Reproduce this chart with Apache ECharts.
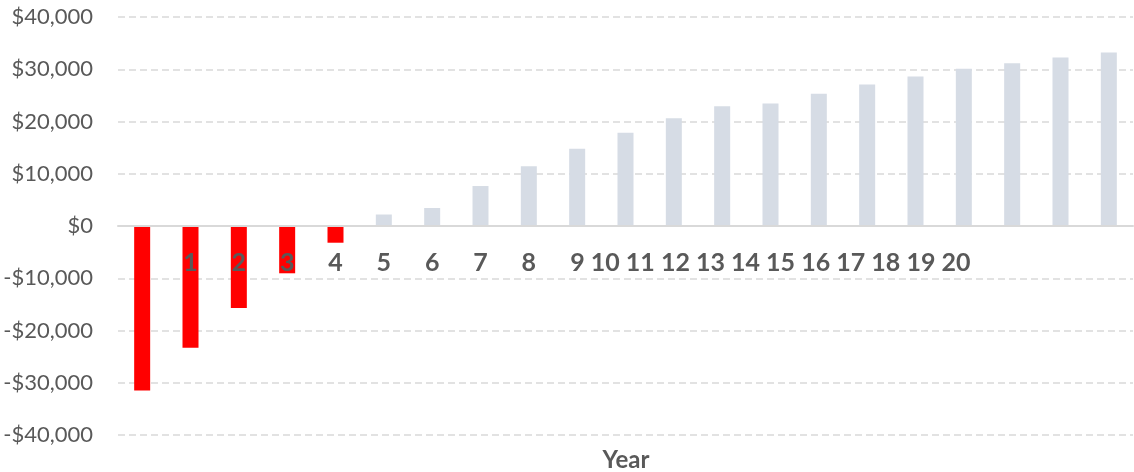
<!DOCTYPE html>
<html>
<head>
<meta charset="utf-8">
<script src="https://cdn.jsdelivr.net/npm/echarts@6/dist/echarts.min.js"></script>
<style>
  html,body{margin:0;padding:0;background:#fff}
  #chart{width:1134px;height:472px}
</style>
</head>
<body>
<div id="chart"></div>
<script>
// year 0..20 cash flow
var years = ['0','1','2','3','4','5','6','7','8','9','10','11','12','13','14','15','16','17','18','19','20']
var cashFlow = [-31500,-23300,-15700,-9050,-3200,2200,3450,7650,11450,14800,17850,20600,22900,23450,25300,27100,28600,30100,31150,32250,33200]
// the year labels as they sit in the original: 9..20 run together under the 10th bar
var xLabels = ['','1','2','3','4','5','6','7','8','9 10 11 12 13 14 15 16 17 18 19 20','','','','','','','','','','','']
var yTicks = {min:-40000,max:40000,step:10000}

var ec = echarts.init(document.getElementById('chart'))
var font = 'Lato, "Liberation Sans", sans-serif'
var opt = {
  animation:false,
  title:{
    text:'Year',
    left:626,
    textAlign:'center',
    bottom:0,
    padding:0,
    textStyle:{fontFamily:font,fontSize:24,fontWeight:'bold',color:'#595959'}
  },
  grid:{left:118,right:1,top:17,bottom:37,containLabel:false,outerBoundsMode:'none'},
  xAxis:{
    type:'category',
    z:10,
    data:xLabels.map(function(l,i){
      return i==9?{value:l,textStyle:{align:'left',padding:[0,0,0,-7]}}:l
    }),
    axisLine:{onZero:true,lineStyle:{color:'#d9d9d9',width:2}},
    axisTick:{show:false},
    axisLabel:{
      interval:0,
      hideOverlap:false,
      // labels sit just under the zero line, not at the bottom of the grid
      margin:-185,
      fontFamily:font,fontSize:25,fontWeight:'bold',color:'#595959'
    }
  },
  yAxis:{
    type:'value',
    min:yTicks.min,max:yTicks.max,interval:yTicks.step,
    axisLine:{show:false},
    axisTick:{show:false},
    axisLabel:{
      margin:25,
      fontFamily:font,fontSize:22,color:'#595959',
      formatter:function(v){
        var s='$'+Math.abs(v).toLocaleString('en-US')
        return v<0?'-'+s:s
      }
    },
    splitLine:{lineStyle:{color:'#d9d9d9',width:1.5,type:[7,4]}}
  },
  series:[{
    type:'bar',
    name:'Cash flow',
    data:cashFlow,
    barWidth:16,
    itemStyle:{
      color:function(p){return p.value<0?'#ff0000':'#d6dce5'}
    }
  }]
}
ec.setOption(opt)
</script>
</body>
</html>
